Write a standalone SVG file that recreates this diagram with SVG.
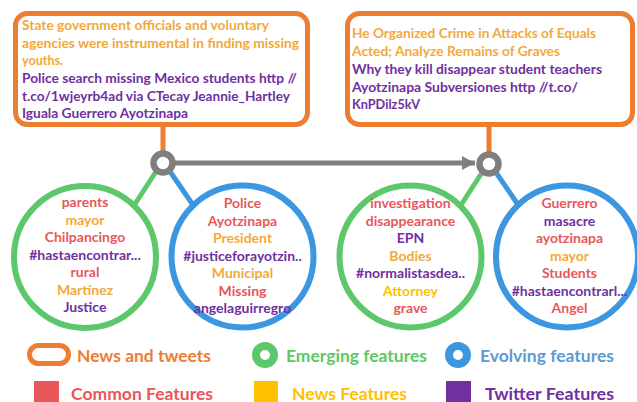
<svg xmlns="http://www.w3.org/2000/svg" width="637" height="402" viewBox="0 0 637 402">
<defs>
<style>
text{font-family:Lato,"Open Sans","Liberation Sans",sans-serif;font-weight:bold}
.bx{font-size:13.6px}
.ct{font-size:14px;text-anchor:middle}
.lg{font-size:17px}
.n{fill:#F2A93B}
.y{fill:#FFC000}
.r{fill:#E8575A}
.p{fill:#7030A0}
.box{fill:#fff;stroke:#ED7D31;stroke-width:5}
.gr{fill:none;stroke:#5DC86B;stroke-width:6}
.bl{fill:none;stroke:#3C96E0;stroke-width:6}
.ring{fill:#fff;stroke:#7F7F7F;stroke-width:6.5}
</style>
<marker id="ah" markerUnits="userSpaceOnUse" markerWidth="14" markerHeight="16" refX="13" refY="8" orient="auto">
<path d="M0,1 L13,8 L0,15 Z" fill="#7F7F7F"/>
</marker>
</defs>
<rect width="637" height="402" fill="#fff"/>

<g id="connectors">
<line x1="163" y1="125" x2="163" y2="154" stroke="#ED7D31" stroke-width="5"/>
<line x1="489" y1="125" x2="489" y2="155" stroke="#ED7D31" stroke-width="5"/>
<line x1="172" y1="163" x2="475" y2="163" stroke="#7F7F7F" stroke-width="5" marker-end="url(#ah)"/>
<line x1="157" y1="170" x2="135" y2="204" stroke="#5DC86B" stroke-width="5"/>
<line x1="169" y1="170" x2="193" y2="205" stroke="#3C96E0" stroke-width="5"/>
<line x1="483" y1="171" x2="461" y2="205" stroke="#5DC86B" stroke-width="5"/>
<line x1="495" y1="171" x2="519" y2="206" stroke="#3C96E0" stroke-width="5"/>
</g>

<g id="box-left">
<rect class="box" x="15.5" y="13.5" width="292" height="111" rx="12"/>
<text class="bx n" x="22" y="30" textLength="247" lengthAdjust="spacingAndGlyphs">State government officials and voluntary</text>
<text class="bx n" x="22" y="47.5" textLength="277" lengthAdjust="spacingAndGlyphs">agencies were instrumental in finding missing</text>
<text class="bx n" x="22" y="65" textLength="41" lengthAdjust="spacingAndGlyphs">youths.</text>
<text class="bx p" x="22" y="83" textLength="275" lengthAdjust="spacingAndGlyphs">Police search missing Mexico students http //</text>
<text class="bx p" x="22" y="100.5" textLength="268" lengthAdjust="spacingAndGlyphs">t.co/1wjeyrb4ad via CTecay Jeannie_Hartley</text>
<text class="bx p" x="22" y="118" textLength="166" lengthAdjust="spacingAndGlyphs">Iguala Guerrero Ayotzinapa</text>
</g>

<g id="box-right">
<rect class="box" x="347.5" y="13.5" width="285" height="111" rx="12"/>
<text class="bx n" x="352" y="38" textLength="244" lengthAdjust="spacingAndGlyphs">He Organized Crime in Attacks of Equals</text>
<text class="bx n" x="352" y="56" textLength="208" lengthAdjust="spacingAndGlyphs">Acted; Analyze Remains of Graves</text>
<text class="bx p" x="352" y="74" textLength="250" lengthAdjust="spacingAndGlyphs">Why they kill disappear student teachers</text>
<text class="bx p" x="352" y="92" textLength="226" lengthAdjust="spacingAndGlyphs">Ayotzinapa Subversiones http //t.co/</text>
<text class="bx p" x="352" y="109" textLength="68" lengthAdjust="spacingAndGlyphs">KnPDilz5kV</text>
</g>

<g id="junction-left"><circle class="ring" cx="163" cy="163" r="9.5"/></g>
<g id="junction-right"><circle class="ring" cx="489" cy="164" r="9.5"/></g>

<g id="emerging-left">
<circle class="gr" cx="85" cy="257" r="71"/>
<text class="ct r" x="85" y="207.3">parents</text>
<text class="ct n" x="85" y="224.8">mayor</text>
<text class="ct r" x="85" y="242.3">Chilpancingo</text>
<text class="ct p" x="85" y="259.8">#hastaencontrar...</text>
<text class="ct r" x="85" y="277.3">rural</text>
<text class="ct n" x="85" y="294.8">Martínez</text>
<text class="ct p" x="85" y="312.3">Justice</text>
</g>

<g id="evolving-left">
<circle class="bl" cx="242.5" cy="256.5" r="71"/>
<text class="ct r" x="242.5" y="208">Police</text>
<text class="ct r" x="242.5" y="225.5">Ayotzinapa</text>
<text class="ct n" x="242.5" y="243">President</text>
<text class="ct p" x="242.5" y="260.5">#justiceforayotzin..</text>
<text class="ct n" x="242.5" y="278">Municipal</text>
<text class="ct r" x="242.5" y="295.5">Missing</text>
<text class="ct p" x="242.5" y="313">angelaguirregro</text>
</g>

<g id="emerging-right">
<circle class="gr" cx="410.5" cy="256.5" r="71"/>
<text class="ct r" x="410.5" y="208">investigation</text>
<text class="ct r" x="410.5" y="225.5">disappearance</text>
<text class="ct p" x="410.5" y="243">EPN</text>
<text class="ct n" x="410.5" y="261">Bodies</text>
<text class="ct p" x="410.5" y="278">#normalistasdea..</text>
<text class="ct y" x="410.5" y="296">Attorney</text>
<text class="ct r" x="410.5" y="313">grave</text>
</g>

<g id="evolving-right">
<circle class="bl" cx="567" cy="256.5" r="71"/>
<text class="ct r" x="569.5" y="208">Guerrero</text>
<text class="ct p" x="569.5" y="225.5">masacre</text>
<text class="ct r" x="569.5" y="243">ayotzinapa</text>
<text class="ct n" x="569.5" y="260.5">mayor</text>
<text class="ct r" x="569.5" y="278">Students</text>
<text class="ct p" x="569.5" y="295.5">#hastaencontrarl...</text>
<text class="ct r" x="569.5" y="313">Angel</text>
</g>

<g id="legend">
<rect x="29.5" y="345.5" width="39" height="18" rx="9" fill="#fff" stroke="#ED7D31" stroke-width="5"/>
<text class="lg" x="77" y="362" fill="#ED7D31" textLength="134" lengthAdjust="spacingAndGlyphs">News and tweets</text>
<circle cx="265" cy="355" r="9" fill="none" stroke="#5DC86B" stroke-width="8"/>
<text class="lg" x="286" y="362" fill="#5CC864" textLength="141" lengthAdjust="spacingAndGlyphs">Emerging features</text>
<circle cx="458" cy="355" r="9" fill="none" stroke="#3C96E0" stroke-width="8"/>
<text class="lg" x="480" y="362" fill="#5B9BD5" textLength="134" lengthAdjust="spacingAndGlyphs">Evolving features</text>
<rect x="34" y="381" width="25" height="25" fill="#E8575A"/>
<text class="lg" x="71" y="399.5" fill="#E8575A" textLength="142" lengthAdjust="spacingAndGlyphs">Common Features</text>
<rect x="254" y="381" width="24" height="25" fill="#FFC000"/>
<text class="lg" x="292" y="399.5" fill="#FFC000" textLength="115" lengthAdjust="spacingAndGlyphs">News Features</text>
<rect x="446" y="381" width="25" height="25" fill="#7030A0"/>
<text class="lg" x="485" y="399.5" fill="#7030A0" textLength="129" lengthAdjust="spacingAndGlyphs">Twitter Features</text>
</g>
</svg>
